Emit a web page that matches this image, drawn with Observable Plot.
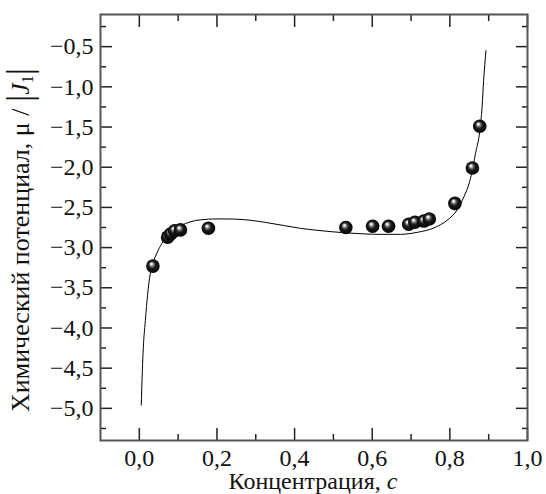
<!DOCTYPE html>
<html><head><meta charset="utf-8">
<script src="https://cdn.jsdelivr.net/npm/d3@7"></script>
<script src="https://cdn.jsdelivr.net/npm/@observablehq/plot@0.6"></script>
<style>body{margin:0;background:#fff} svg text, svg tspan{font-family:"Liberation Serif","Times New Roman","DejaVu Serif",serif;}</style>
</head><body><div id="chart"></div>
<script>
// Measured points (concentration c, chemical potential mu/|J1|)
const pointC  = [0.035, 0.073, 0.081, 0.091, 0.106, 0.178, 0.532, 0.601, 0.642, 0.694, 0.710, 0.733, 0.747, 0.813, 0.858, 0.877];
const pointMu = [-3.23, -2.87, -2.83, -2.79, -2.78, -2.76, -2.75, -2.735, -2.735, -2.71, -2.685, -2.67, -2.645, -2.45, -2.01, -1.49];
// Theoretical curve
const curveC  = [0.005, 0.0095, 0.0155, 0.0215, 0.028, 0.034, 0.046, 0.058, 0.075, 0.090, 0.106, 0.131, 0.157, 0.200, 0.243, 0.286, 0.329, 0.372, 0.415, 0.458, 0.501, 0.544, 0.580, 0.621, 0.673, 0.716, 0.759, 0.793, 0.819, 0.836, 0.849, 0.857, 0.866, 0.877, 0.883, 0.887, 0.893];
const curveMu = [-4.96, -4.32, -3.91, -3.58, -3.33, -3.21, -3.06, -2.95, -2.84, -2.78, -2.73, -2.68, -2.655, -2.643, -2.645, -2.66, -2.69, -2.725, -2.76, -2.785, -2.805, -2.82, -2.83, -2.835, -2.835, -2.81, -2.755, -2.66, -2.53, -2.37, -2.21, -2.06, -1.83, -1.55, -1.25, -0.92, -0.55];
// Axis ticks
const xMajorTicks = [0.0, 0.2, 0.4, 0.6, 0.8, 1.0];
const xMinorTicks = [0.1, 0.3, 0.5, 0.7, 0.9];
const yMajorTicks = [-0.5, -1.0, -1.5, -2.0, -2.5, -3.0, -3.5, -4.0, -4.5, -5.0];
const yMinorTicks = [-0.25, -0.75, -1.25, -1.75, -2.25, -2.75, -3.25, -3.75, -4.25, -4.75, -5.25];
const xDomain = [-0.1, 1.0];
const yDomain = [-5.4, -0.1];
const xLabelText = "Концентрация, ";
const xLabelVar = "c";
const yLabelText = "Химический потенциал, μ / ";
const yLabelVar = "J";
const yLabelSub = "1";

const fmt = d => d.toFixed(1).replace(".", ",").replace("-", "\u2212");
const pts = pointC.map((c, i) => ({c, mu: pointMu[i]}));
const crv = curveC.map((c, i) => ({c, mu: curveMu[i]}));

const serif = "Liberation Serif, Times New Roman, DejaVu Serif, serif";
const tickStyle = {stroke: "#222", strokeWidth: 1.5};
const plot = Plot.plot({
  width: 546, height: 494,
  marginLeft: 100, marginRight: 19, marginTop: 14, marginBottom: 54,
  style: {fontSize: "24px", color: "#111"},
  x: {domain: xDomain},
  y: {domain: yDomain},
  marks: [
    Plot.axisX({ticks: xMajorTicks, anchor: "bottom", tickSize: -12, text: null, label: null, ...tickStyle}),
    Plot.axisX({ticks: xMinorTicks, anchor: "bottom", tickSize: -6, text: null, label: null, ...tickStyle}),
    Plot.axisX({ticks: xMajorTicks, anchor: "top", tickSize: -12, text: null, label: null, ...tickStyle}),
    Plot.axisX({ticks: xMinorTicks, anchor: "top", tickSize: -6, text: null, label: null, ...tickStyle}),
    Plot.axisY({ticks: yMajorTicks, anchor: "left", tickSize: -12, text: null, label: null, ...tickStyle}),
    Plot.axisY({ticks: yMinorTicks, anchor: "left", tickSize: -6, text: null, label: null, ...tickStyle}),
    Plot.axisY({ticks: yMajorTicks, anchor: "right", tickSize: -12, text: null, label: null, ...tickStyle}),
    Plot.axisY({ticks: yMinorTicks, anchor: "right", tickSize: -6, text: null, label: null, ...tickStyle}),
    Plot.text(xMajorTicks, {x: d => d, frameAnchor: "bottom", lineAnchor: "top", dy: 8, text: fmt, fontSize: 24, fontFamily: serif, fill: "#111"}),
    Plot.text(yMajorTicks, {y: d => d, frameAnchor: "left", textAnchor: "end", dx: -7, text: fmt, fontSize: 24, fontFamily: serif, fill: "#111"}),
    Plot.frame({stroke: "#555", strokeWidth: 2}),
    Plot.line(crv, {x: "c", y: "mu", curve: "monotone-x", stroke: "#000", strokeWidth: 1}),
    Plot.dot(pts, {x: "c", y: "mu", r: 6.8, fill: "url(#ball)", stroke: "none"})
  ]
});

const svg = d3.select(plot);
svg.attr("font-family", serif);
const defs = svg.insert("defs", ":first-child");
const rg = defs.append("radialGradient").attr("id", "ball")
  .attr("cx", "0.5").attr("cy", "0.5").attr("r", "0.55")
  .attr("fx", "0.38").attr("fy", "0.32");
[[0, "#ffffff"], [0.12, "#e8e8e8"], [0.28, "#777"], [0.5, "#1a1a1a"], [1, "#000"]]
  .forEach(([o, c]) => rg.append("stop").attr("offset", o).attr("stop-color", c));

const xl = svg.append("text").attr("x", 313).attr("y", 489).attr("text-anchor", "middle")
  .attr("font-size", 24).attr("fill", "#111");
xl.append("tspan").text(xLabelText);
xl.append("tspan").attr("font-style", "italic").text(xLabelVar);

const yl = svg.append("text").attr("transform", "translate(29,240) rotate(-90)").attr("text-anchor", "middle")
  .attr("font-size", 26).attr("fill", "#111");
yl.append("tspan").text(yLabelText);
yl.append("tspan").attr("font-size", 36).attr("dy", 2).text("|");
yl.append("tspan").attr("font-style", "italic").attr("dy", -2).text(yLabelVar);
yl.append("tspan").attr("font-size", 16).attr("dy", 4).text(yLabelSub);
yl.append("tspan").attr("font-size", 36).attr("dy", -2).text("|");

svg.selectAll("[font-variant]").attr("font-variant", null);
svg.selectAll("text, g").attr("font-family", serif);
document.getElementById("chart").appendChild(plot);
</script>
</body></html>
